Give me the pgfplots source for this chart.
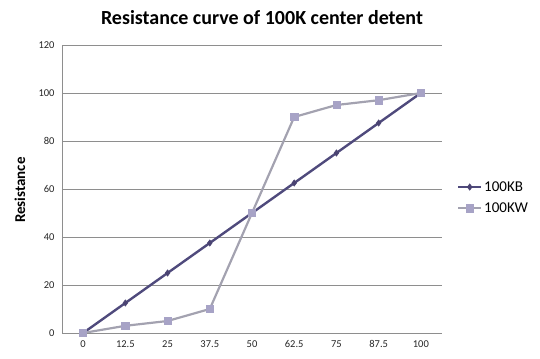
\documentclass[border=0pt]{standalone}
\usepackage{pgfplots}
\pgfplotsset{compat=1.18}
\usepackage{fontspec}
\setmainfont{Carlito}
\definecolor{kbline}{HTML}{4F4A7C}
\definecolor{kbmark}{HTML}{4A4372}
\definecolor{kwline}{HTML}{A3A2B0}
\definecolor{kwmark}{HTML}{A7A3C6}
\definecolor{gridc}{HTML}{8E8E8E}
\begin{document}
\begin{tikzpicture}
\useasboundingbox (0,0) rectangle (540bp,359bp);
\begin{axis}[
  at={(62bp,26bp)}, anchor=south west,
  scale only axis, width=380bp, height=288bp,
  xmin=-0.5, xmax=8.5, ymin=0, ymax=120,
  xtick={0,1,2,3,4,5,6,7,8},
  xticklabels={0,12.5,25,37.5,50,62.5,75,87.5,100},
  ytick={0,20,40,60,80,100,120},
  ymajorgrids, grid style={gridc, line width=0.8pt},
  axis x line*=bottom, axis y line*=left,
  axis line style={gridc, line width=0.8pt, -},
  major tick length=0pt,
  tick label style={font=\fontsize{10.5bp}{12bp}\selectfont, color=black!85},
  /pgf/number format/assume math mode=true,
  xticklabel style={yshift=-4bp},
  yticklabel style={xshift=-4bp},
  legend style={draw=none, fill=none, at={(1,0.47)}, anchor=west, xshift=12bp,
    font=\fontsize{15bp}{17bp}\selectfont, row sep=6bp,
    legend cell align=left},
  legend image code/.code={%
    \draw[mark repeat=2,mark phase=2] plot coordinates {(0cm,0cm) (0.4cm,0cm) (0.8cm,0cm)};},
]
\addplot[kbline, line width=2.4pt, mark=diamond*, mark size=3.2pt,
  mark options={fill=kbmark, draw=kbmark, line width=0.5pt}]
  coordinates {(0,0) (1,12.5) (2,25) (3,37.5) (4,50) (5,62.5) (6,75) (7,87.5) (8,100)};
\addlegendentry{100KB}
\addplot[kwline, line width=2.2pt, mark=square*, mark size=3.6pt,
  mark options={fill=kwmark, draw=kwmark, line width=0.5pt}]
  coordinates {(0,0) (1,3) (2,5) (3,10) (4,50) (5,90) (6,95) (7,97) (8,100)};
\addlegendentry{100KW}
\end{axis}
\node[font=\bfseries\fontsize{20bp}{22bp}\selectfont] at (262bp,341bp) {Resistance curve of 100K center detent};
\node[font=\bfseries\fontsize{15bp}{17bp}\selectfont, rotate=90] at (20bp,169bp) {Resistance};
\end{tikzpicture}
\end{document}
